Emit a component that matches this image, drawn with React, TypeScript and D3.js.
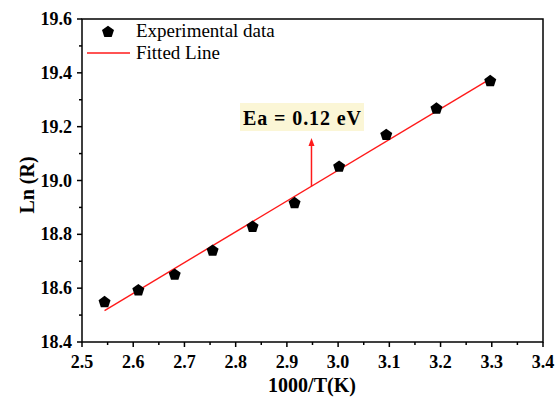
import React from 'react';
import * as d3 from 'd3';

// 1000/T (K^-1) and Ln(R)
const invT = [2.544, 2.610, 2.681, 2.755, 2.833, 2.915, 3.002, 3.094, 3.192, 3.297];
const lnR = [18.551, 18.595, 18.653, 18.742, 18.831, 18.919, 19.054, 19.172, 19.270, 19.372];

// linear fit Ln(R) = a + b * (1000/T)
const fitSlope = 1.143;
const fitIntercept = 15.609;
const fitRange = [2.544, 3.298];

const xTicks = [2.5, 2.6, 2.7, 2.8, 2.9, 3.0, 3.1, 3.2, 3.3, 3.4];
const yTicks = [18.4, 18.6, 18.8, 19.0, 19.2, 19.4, 19.6];

const arrowX = 2.948;
const arrowTop = 19.158;
const annotLabel = 'Ea = 0.12 eV';

const W = 556;
const H = 398;
const serif = '"Liberation Serif", "Times New Roman", serif';

// pentagon marker, point up
const pentagonPath = (r: number) =>
  d3.lineRadial<number>()
    .angle(d => (d * 2 * Math.PI) / 5)
    .radius(r)
    .curve(d3.curveLinearClosed)(d3.range(5)) || '';

export default function App() {
  const x = d3.scaleLinear().domain([2.5, 3.4]).range([82, 543]);
  const y = d3.scaleLinear().domain([18.4, 19.6]).range([342, 19]);
  const [x0, x1] = x.range();
  const [y0, y1] = y.range();

  const xMinor = d3.range(2.55, 3.4, 0.1);
  const yMinor = d3.range(18.5, 19.6, 0.2);

  const fit = (v: number) => fitIntercept + fitSlope * v;
  const fitLine = d3.line<number>().x(d => x(d)).y(d => y(fit(d)));

  const pentagon = pentagonPath(6.3);

  const ax = x(arrowX);
  const ayBase = y(fit(arrowX));
  const ayTop = y(arrowTop);

  return (
    <svg width={W} height={H} style={{ position: 'absolute', left: 0, top: 0, background: '#fff' }}>
      {/* fitted line */}
      <path d={fitLine(fitRange) || ''} stroke="#ff1a1a" strokeWidth={1.4} fill="none" />

      {/* data points */}
      {invT.map((v, i) => (
        <path key={i} d={pentagon} transform={`translate(${x(v)},${y(lnR[i]) + 0.8})`} fill="#000" />
      ))}

      {/* arrow annotation */}
      <line x1={ax} x2={ax} y1={ayBase} y2={ayTop + 6} stroke="#ff1a1a" strokeWidth={1.5} />
      <path d={`M${ax},${ayTop} L${ax - 3},${ayTop + 8} L${ax + 3},${ayTop + 8} Z`} fill="#ff1a1a" />
      <rect x={240} y={103} width={124} height={28} fill="#fbf6d6" />
      <text x={243} y={125} fontFamily={serif} fontWeight="bold" fontSize={20}
        textLength={118} lengthAdjust="spacing">{annotLabel}</text>

      {/* frame */}
      <rect x={x0} y={y1} width={x1 - x0} height={y0 - y1} fill="none" stroke="#000" strokeWidth={1.5} />

      {/* x axis ticks */}
      {xTicks.map(t => (
        <g key={t}>
          <line x1={x(t)} x2={x(t)} y1={y0} y2={y0 + 5} stroke="#000" strokeWidth={1.5} />
          <text x={x(t)} y={368} textAnchor="middle" fontFamily={serif} fontWeight="bold" fontSize={18}>
            {t.toFixed(1)}
          </text>
        </g>
      ))}
      {xMinor.map(t => (
        <line key={t} x1={x(t)} x2={x(t)} y1={y0} y2={y0 + 3} stroke="#000" strokeWidth={1.5} />
      ))}

      {/* y axis ticks */}
      {yTicks.map(t => (
        <g key={t}>
          <line x1={x0 - 5} x2={x0} y1={y(t)} y2={y(t)} stroke="#000" strokeWidth={1.5} />
          <text x={72} y={y(t) + 6} textAnchor="end" fontFamily={serif} fontWeight="bold" fontSize={18}>
            {t.toFixed(1)}
          </text>
        </g>
      ))}
      {yMinor.map(t => (
        <line key={t} x1={x0 - 3} x2={x0} y1={y(t)} y2={y(t)} stroke="#000" strokeWidth={1.5} />
      ))}

      {/* axis titles */}
      <text x={312} y={392} textAnchor="middle" fontFamily={serif} fontWeight="bold" fontSize={20}>
        1000/T(K)
      </text>
      <text transform="translate(34,185) rotate(-90)" textAnchor="middle" fontFamily={serif}
        fontWeight="bold" fontSize={20}>
        Ln (R)
      </text>

      {/* legend */}
      <path d={pentagon} transform="translate(108,32)" fill="#000" />
      <text x={136} y={37} fontFamily={serif} fontSize={19}>Experimental data</text>
      <line x1={87} x2={130} y1={53} y2={53} stroke="#ff1a1a" strokeWidth={1.4} />
      <text x={136} y={59} fontFamily={serif} fontSize={19}>Fitted Line</text>
    </svg>
  );
}
